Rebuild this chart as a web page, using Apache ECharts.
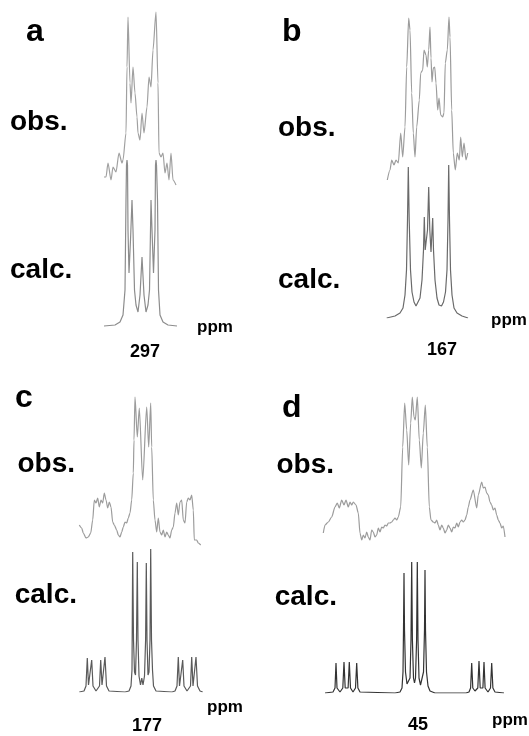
<!DOCTYPE html>
<html><head><meta charset="utf-8">
<script src="https://cdn.jsdelivr.net/npm/echarts@6/dist/echarts.min.js"></script>
<style>html,body{margin:0;padding:0;background:#fff}#c{width:529px;height:736px}</style>
</head><body><div id="c"></div>
<script>
// ---- data: [shift position, intensity] ----
const obsA = [[4,13],[6,13],[8,27],[11,10],[13,23],[16,18],[19,37],[22,27],[23,30],[26,57],[27,123],[28,173],[30,107],[31,87],[33,123],[35,97],[37,73],[38,57],[40,50],[42,77],[44,57],[47,83],[49,113],[51,103],[53,140],[56,178],[58,107],[59,37],[61,33],[63,37],[65,17],[67,27],[69,10],[71,37],[73,10],[76,5]];
const calcA = [[4,1],[15,2],[20,5],[23,12],[25,37],[26,127],[26.5,162],[27,167],[27.5,162],[28,97],[29,54],[30.5,87],[32,127],[33,97],[34.5,37],[36,22],[38,15],[40,32],[42,70],[44,32],[46,15],[48,22],[49.5,37],[51,127],[52,97],[53.5,54],[55,97],[55.5,162],[56,167],[56.5,162],[57.5,127],[58.5,37],[60,12],[63,5],[68,2],[77,1]];
const obsB = [[2.3,10],[5,20],[6.7,30],[9,25],[11,30],[13.3,27],[15.7,57],[17.7,33],[20,63],[21.7,123],[23.7,172],[25,160],[26.7,97],[28.3,57],[30,33],[31.7,63],[34.3,90],[35.7,117],[37.7,120],[39,140],[41,135],[42.3,123],[43.7,140],[45,163],[46,132],[47,108],[48.3,122],[49.7,123],[51,107],[52.7,80],[54,92],[55.7,75],[57.7,73],[59,77],[60.3,127],[62.3,140],[64,173],[65,153],[66.7,80],[68.3,37],[70.3,20],[72.3,37],[74.3,30],[75.7,53],[77.3,33],[79,47],[81,30],[82.7,37]];
const calcB = [[1.7,0],[10,2],[15,5],[18,10],[20,23],[21.5,48],[22.5,98],[23.3,151],[24.2,98],[25.5,48],[27,26],[29,16],[31,12],[33,13],[35,20],[37,38],[38.5,68],[39.3,101],[40.2,68],[41,66],[42.5,88],[43.7,131],[44.8,88],[46,66],[47,68],[47.7,100],[48.5,68],[50,38],[52,20],[54,13],[56.5,12],[58.5,16],[60.5,26],[62,48],[63,98],[63.7,153],[64.5,98],[65.5,48],[67,23],[69,10],[72,5],[77,2],[83,0]];
const obsC = [[4.3,25],[6.7,22],[8.3,17],[11,12],[13.3,13],[15.7,17],[17.7,30],[19.3,50],[21,47],[22.7,52],[24.3,43],[26,50],[27.7,47],[29.3,57],[31,50],[32.7,42],[34.3,48],[36,43],[37.7,28],[39.3,25],[41.7,20],[43.3,15],[45,13],[46.7,18],[48.3,23],[50,28],[51.7,27],[53.3,32],[55,37],[56.7,50],[58.3,77],[59,110],[60,153],[62.3,113],[64.3,142],[67.7,70],[71.7,143],[73.7,103],[75.7,147],[76.7,103],[78.3,50],[80,30],[81.7,18],[83.3,32],[85,18],[86.7,15],[88.3,20],[90,13],[91.7,18],[93.3,15],[95,12],[96.7,20],[98.3,23],[100,37],[101.7,47],[103.3,35],[105,48],[106.7,50],[108.3,30],[110,27],[111.7,48],[113.3,52],[115,50],[116.7,55],[118.3,40],[119.3,10],[121.7,10],[123.3,7],[125.7,5]];
const calcC = [[4.3,0],[9,1],[11,6],[12.3,34],[13.5,7],[15,6],[16.7,32],[18,6],[21,1],[24.5,6],[25.7,32],[27,7],[28.5,6],[30,35],[31.5,6],[34,1],[50,0],[54,1],[56,6],[57,22],[57.7,140],[58.5,52],[59.5,20],[60.5,17],[61.5,52],[62.3,130],[63,52],[64,16],[65.5,7],[66.8,14],[68,7],[69.5,16],[70.6,52],[71.3,129],[72,52],[73,17],[74,20],[75,52],[75.7,143],[76.5,52],[77.5,22],[78.5,6],[81,1],[97,0],[100,1],[102,6],[103.3,35],[104.5,6],[106,6],[107.7,32],[109,6],[112,1],[115.5,6],[116.7,35],[118,6],[119.5,6],[121,35],[122.5,6],[125,1],[127.7,0]];
const obsD = [[3.3,12],[5,20],[8.3,23],[11.7,28],[15,38],[17.3,42],[19.3,37],[21.7,45],[24,40],[26,45],[28.3,38],[30,43],[31.7,40],[33.3,43],[36,40],[38.3,32],[40,12],[41.7,5],[43.3,10],[45,7],[46.7,13],[48.3,8],[50,5],[51.7,15],[53.3,13],[55,8],[56.7,10],[58.3,17],[60,13],[61.7,18],[63.3,17],[65,20],[66.7,19],[68.3,22],[70,22],[71.7,23],[73.3,25],[75,27],[76.7,25],[78.3,28],[80.7,38],[82.7,98],[84.7,142],[86.7,115],[88.7,80],[90.7,122],[92.3,148],[94,128],[95.3,125],[97.3,148],[99.3,105],[101.3,77],[103.3,112],[105.3,140],[107.3,98],[109.3,38],[111,25],[113.3,23],[115,22],[116.7,25],[118.3,20],[120,15],[121.7,20],[123.3,17],[125,12],[126.7,15],[128.3,20],[130,17],[131.7,13],[133.3,18],[135,17],[136.7,22],[138.3,18],[140,23],[141.7,25],[143.3,23],[145,25],[146.7,30],[148.3,38],[150,45],[153.3,55],[156.7,37],[158.3,50],[161.7,63],[163.3,57],[165,58],[166.7,52],[168.3,50],[170,43],[171.7,40],[173.3,35],[175,37],[176.7,30],[178.3,25],[180,22],[181.7,17],[183.3,19],[185,8]];
const calcD = [[5,0],[13,1],[15,5],[16,30],[17,5],[20,1],[22.8,5],[24,31],[25.2,5],[26.7,3],[28.1,5],[29.3,31],[30.5,5],[33,1],[35.5,5],[36.7,30],[37.9,5],[40,1],[75,0],[80,1],[82,5],[83,21],[83.5,63],[84,120],[84.5,63],[85.5,21],[87,9],[88.5,7],[90,15],[91,53],[91.7,131],[92.4,53],[93.5,15],[94.5,10],[95.5,15],[96.6,53],[97.3,131],[98,53],[99,15],[100.5,8],[102,9],[103.5,21],[104.5,63],[105,123],[105.5,63],[106.5,21],[108,7],[110,2],[115,0],[146,0],[149,1],[150.6,5],[151.7,30],[152.8,5],[155,2],[157.8,5],[159,32],[160.2,5],[161.5,3],[162.9,5],[164,31],[165.1,5],[168,1],[170.5,5],[171.7,30],[172.9,5],[175,1],[184,0]];
const panelLetters = ['a','b','c','d'];
const shiftLabels = ['297','167','177','45'];
const rowLabels = ['obs.','calc.'];
const unitLabel = 'ppm';

// ---- layout (plot boxes) ----
const boxes = [
  {data: obsA,  left:100, width:80,  top:0,   bottom:190, color:'#a0a0a0'},
  {data: calcA, left:100, width:80,  top:140, bottom:327, color:'#8c8c8c'},
  {data: obsB,  left:385, width:85,  top:0,   bottom:190, color:'#9c9c9c'},
  {data: calcB, left:385, width:85,  top:140, bottom:318, color:'#6a6a6a'},
  {data: obsC,  left:75,  width:130, top:380, bottom:550, color:'#9c9c9c'},
  {data: calcC, left:75,  width:130, top:530, bottom:692, color:'#5a5a5a'},
  {data: obsD,  left:320, width:190, top:380, bottom:545, color:'#9c9c9c'},
  {data: calcD, left:320, width:190, top:530, bottom:693, color:'#333333'}
];

const grid=[], xAxis=[], yAxis=[], series=[];
boxes.forEach((b,i)=>{
  const h=b.bottom-b.top;
  grid.push({left:b.left, top:b.top, width:b.width, height:h});
  xAxis.push({type:'value', gridIndex:i, min:0, max:b.width, show:false});
  yAxis.push({type:'value', gridIndex:i, min:0, max:h, show:false});
  series.push({type:'line', xAxisIndex:i, yAxisIndex:i, data:b.data, showSymbol:false,
    smooth: i%2===0 ? 0.25 : false, smoothMonotone:'x',
    lineStyle:{color:b.color, width:1.2}, silent:true});
});

const F='"Liberation Sans", Arial, Helvetica, sans-serif';
function T(text,x,y,size,align){
  return {type:'text', x:x, y:y, style:{text:text, font:'bold '+size+'px '+F, fill:'#000',
    textAlign:align||'left', textVerticalAlign:'middle'}};
}
const graphic = [
  T(panelLetters[0],26,32,32), T(panelLetters[1],282,32,32),
  T(panelLetters[2],15,398,32), T(panelLetters[3],282,408,32),
  T(rowLabels[0],10,122,28), T(rowLabels[1],10,270,28),
  T(rowLabels[0],278,128,28), T(rowLabels[1],278,280,28),
  T(rowLabels[0],75,464,28,'right'), T(rowLabels[1],77,595,28,'right'),
  T(rowLabels[0],334,465,28,'right'), T(rowLabels[1],337,597,28,'right'),
  T(unitLabel,197,327,17), T(unitLabel,491,320,17),
  T(unitLabel,207,707,17), T(unitLabel,492,720,17),
  T(shiftLabels[0],145,352,18,'center'), T(shiftLabels[1],442,350,18,'center'),
  T(shiftLabels[2],147,726,18,'center'), T(shiftLabels[3],418,725,18,'center')
];

const chart = echarts.init(document.getElementById('c'), null, {renderer:'canvas'});
chart.setOption({animation:false, grid, xAxis, yAxis, series, graphic});
</script></body></html>
